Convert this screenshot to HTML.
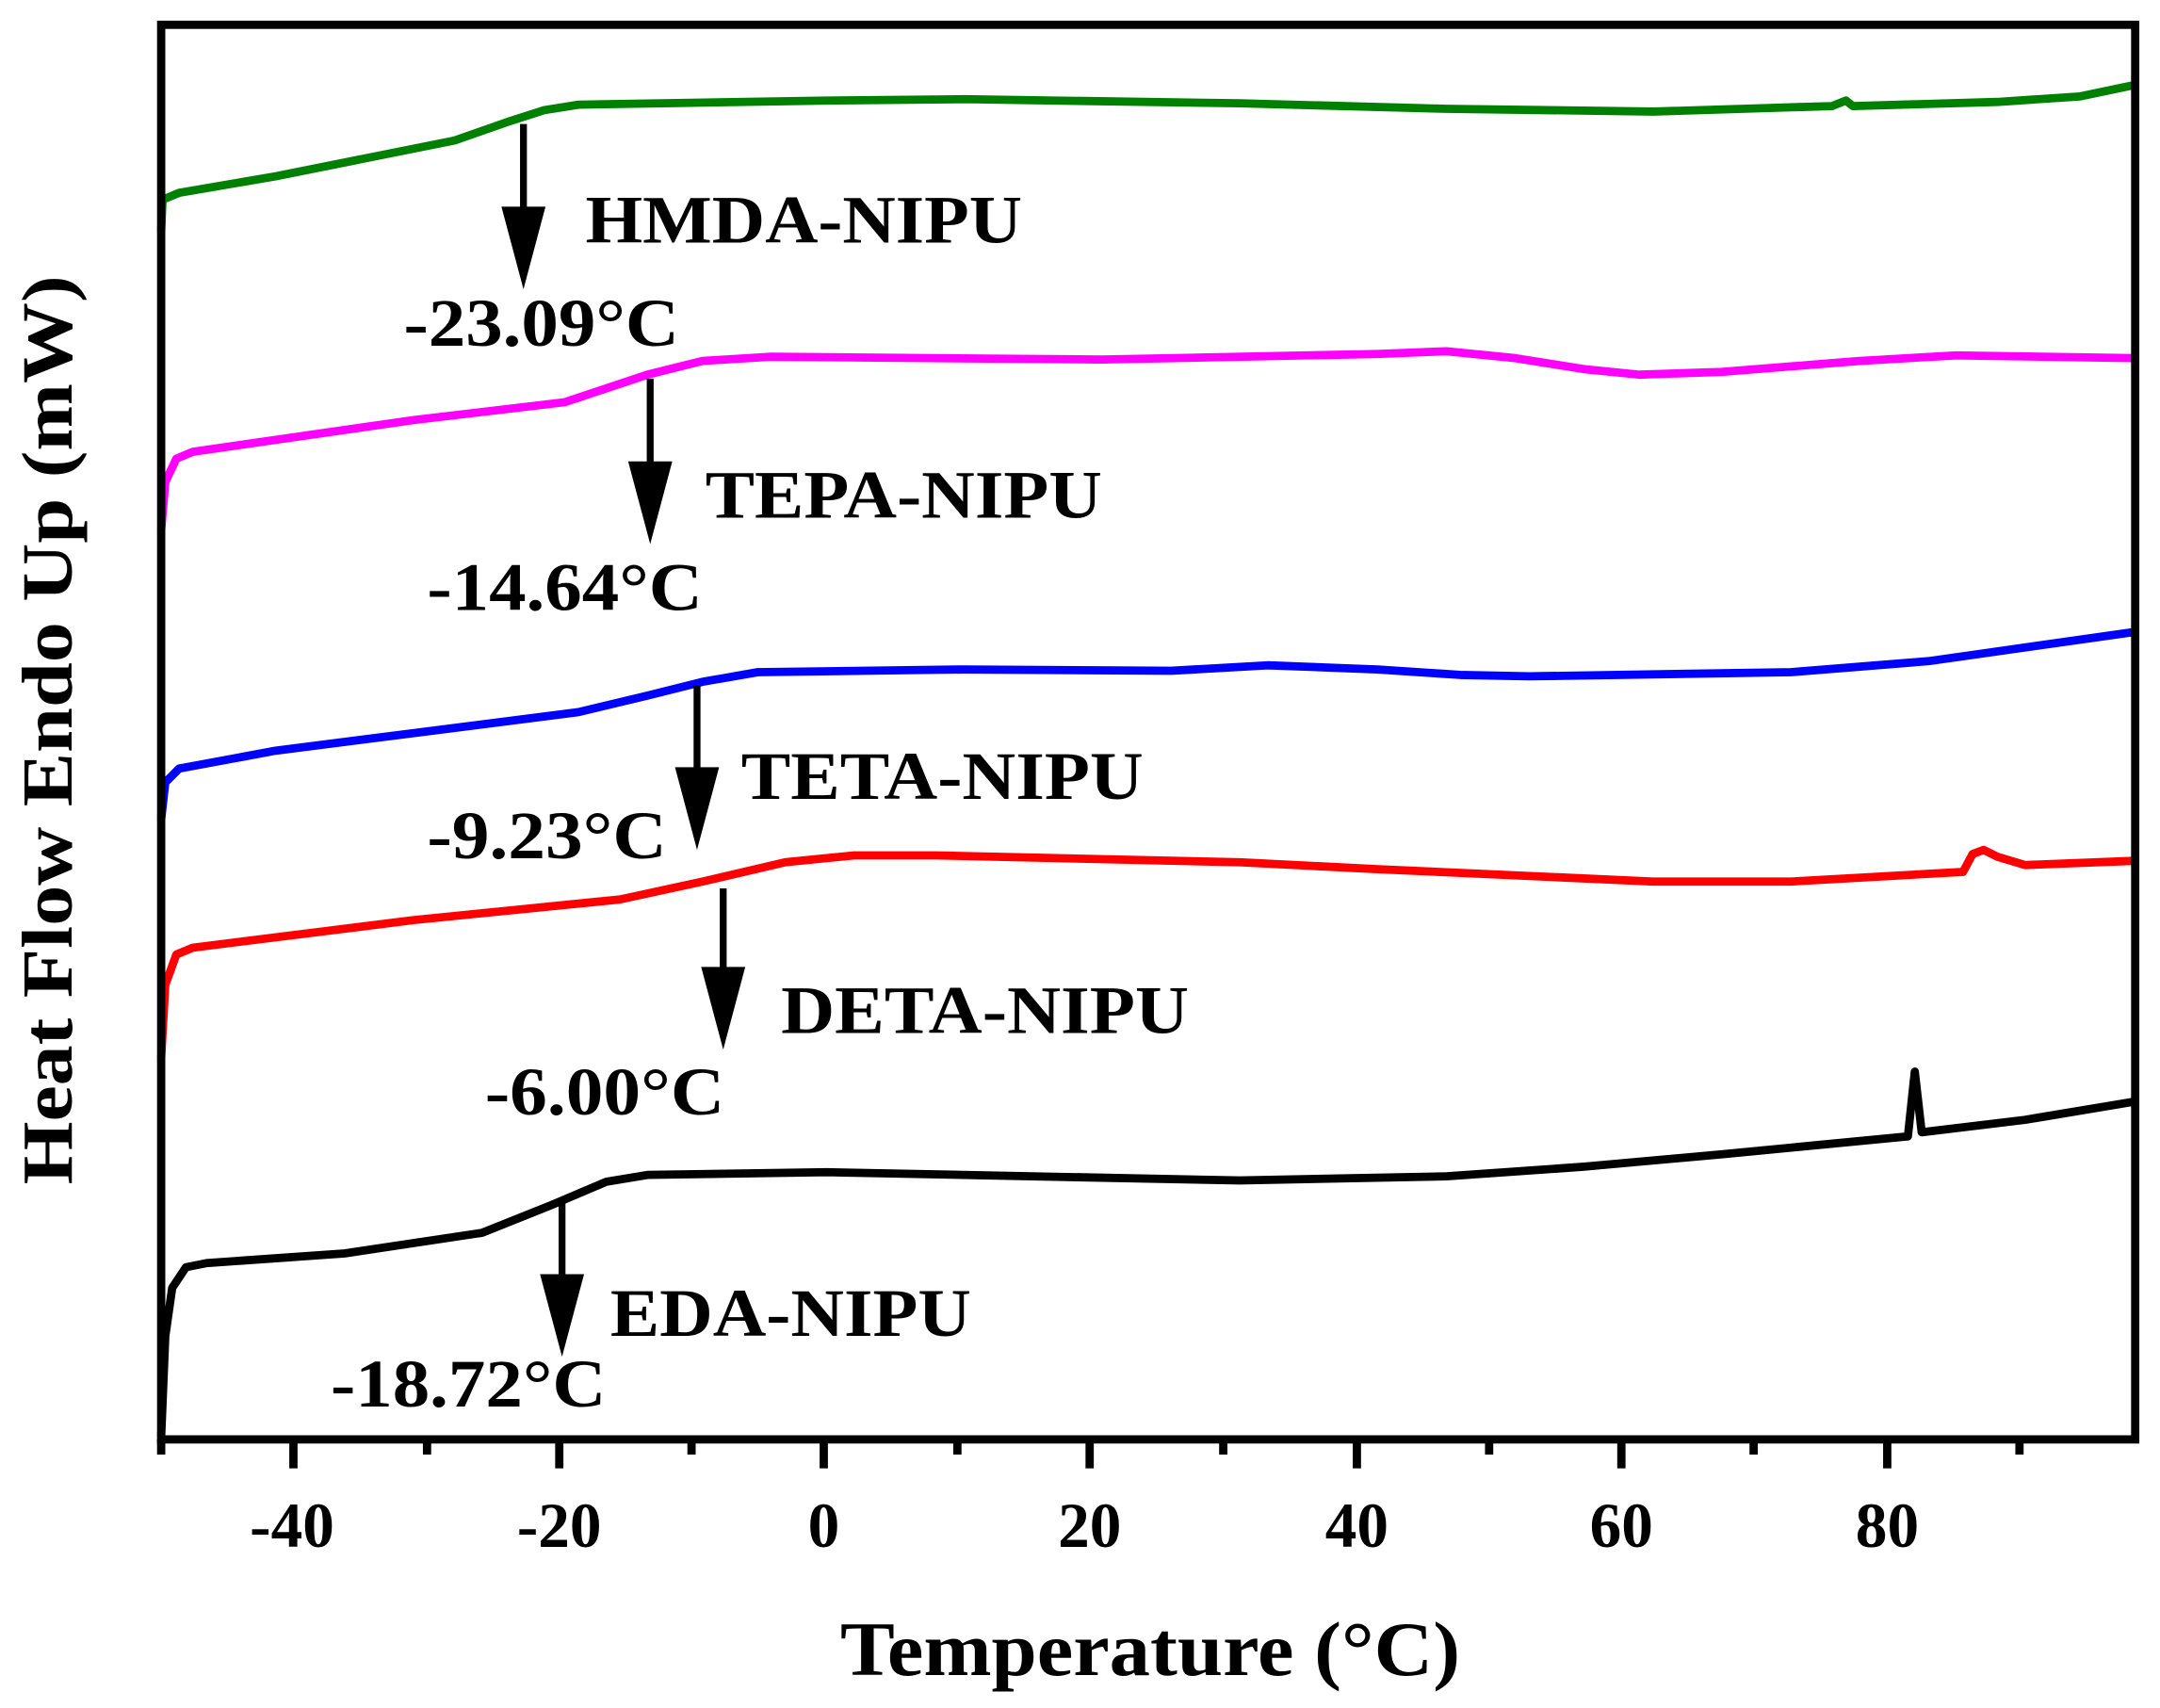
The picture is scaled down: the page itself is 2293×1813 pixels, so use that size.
<!DOCTYPE html>
<html><head><meta charset="utf-8"><style>
html,body{margin:0;padding:0;background:#fff}
svg{display:block}
text{font-family:"Liberation Serif",serif;font-weight:bold;fill:#000}
</style></head><body>
<svg width="2293" height="1813" viewBox="0 0 1568 1240" preserveAspectRatio="none" xmlns="http://www.w3.org/2000/svg">
<g fill="none" stroke-width="6" stroke-linejoin="round">
<polyline stroke="#008000" points="117,168 118,145 130,140 200,128 330,102 370,88 395,80 420,76 600,73 700,72 900,75 1050,79 1200,81 1330,77 1340,73 1345,77 1450,74 1510,70 1548,62"/>
<polyline stroke="#ff00ff" points="117,385 120,350 128,333 140,328 300,305 410,292 440,282 470,272 510,262 560,259 800,261 1000,257 1050,255 1100,260 1150,268 1190,272 1250,270 1350,262 1420,258 1548,260"/>
<polyline stroke="#0000ff" points="117,595 120,568 130,558 200,545 420,517 470,505 510,495 550,488 700,486 850,487 920,483 1000,486 1060,490 1110,491 1300,488 1400,480 1548,459"/>
<polyline stroke="#ff0000" points="117,768 120,715 128,693 140,688 300,668 450,653 510,640 570,626 620,621 680,621 900,626 1000,631 1200,640 1300,640 1425,633 1432,620 1440,617 1450,622 1470,628 1548,625"/>
<polyline stroke="#000000" points="117,1043 120,970 125,935 135,920 150,917 250,910 350,895 400,875 440,858 470,853 600,851 900,857 1050,854 1150,847 1250,838 1385,825 1390,778 1395,822 1470,813 1548,800"/>
</g>
<g stroke="#000" stroke-width="5">
<line x1="380" y1="90" x2="380" y2="180"/>
<line x1="472" y1="275" x2="472" y2="365"/>
<line x1="506" y1="498" x2="506" y2="587"/>
<line x1="525" y1="645" x2="525" y2="732"/>
<line x1="408" y1="872" x2="408" y2="955"/>
</g>
<g fill="#000">
<polygon points="364,150 396,150 380,210"/>
<polygon points="456,335 488,335 472,395"/>
<polygon points="490,557 522,557 506,617"/>
<polygon points="509,702 541,702 525,762"/>
<polygon points="392,925 424,925 408,985"/>
</g>
<g font-size="49" lengthAdjust="spacingAndGlyphs">
<text x="425" y="176" textLength="317" lengthAdjust="spacingAndGlyphs">HMDA-NIPU</text>
<text x="293" y="251" textLength="200" lengthAdjust="spacingAndGlyphs">-23.09°C</text>
<text x="512" y="376" textLength="288" lengthAdjust="spacingAndGlyphs">TEPA-NIPU</text>
<text x="310" y="443" textLength="200" lengthAdjust="spacingAndGlyphs">-14.64°C</text>
<text x="538" y="580" textLength="292" lengthAdjust="spacingAndGlyphs">TETA-NIPU</text>
<text x="310" y="623" textLength="174" lengthAdjust="spacingAndGlyphs">-9.23°C</text>
<text x="567" y="750" textLength="296" lengthAdjust="spacingAndGlyphs">DETA-NIPU</text>
<text x="352" y="809" textLength="174" lengthAdjust="spacingAndGlyphs">-6.00°C</text>
<text x="443" y="970" textLength="262" lengthAdjust="spacingAndGlyphs">EDA-NIPU</text>
<text x="240" y="1021" textLength="200" lengthAdjust="spacingAndGlyphs">-18.72°C</text>
</g>
<rect x="117" y="18" width="1433" height="1027" fill="none" stroke="#000" stroke-width="6"/>
<g stroke="#000" stroke-width="6">
<line x1="213" y1="1045" x2="213" y2="1066"/>
<line x1="406" y1="1045" x2="406" y2="1066"/>
<line x1="598" y1="1045" x2="598" y2="1066"/>
<line x1="791" y1="1045" x2="791" y2="1066"/>
<line x1="985" y1="1045" x2="985" y2="1066"/>
<line x1="1177" y1="1045" x2="1177" y2="1066"/>
<line x1="1370" y1="1045" x2="1370" y2="1066"/>
<line x1="117" y1="1045" x2="117" y2="1056"/>
<line x1="310" y1="1045" x2="310" y2="1056"/>
<line x1="502" y1="1045" x2="502" y2="1056"/>
<line x1="695" y1="1045" x2="695" y2="1056"/>
<line x1="888" y1="1045" x2="888" y2="1056"/>
<line x1="1081" y1="1045" x2="1081" y2="1056"/>
<line x1="1273" y1="1045" x2="1273" y2="1056"/>
<line x1="1466" y1="1045" x2="1466" y2="1056"/>
</g>
<g font-size="46" text-anchor="middle">
<text x="212" y="1123">-40</text>
<text x="406" y="1123">-20</text>
<text x="598" y="1123">0</text>
<text x="791" y="1123">20</text>
<text x="985" y="1123">40</text>
<text x="1177" y="1123">60</text>
<text x="1370" y="1123">80</text>
</g>
<text x="610" y="1216" font-size="56" textLength="450" lengthAdjust="spacingAndGlyphs">Temperature (°C)</text>
<text transform="translate(52,860) rotate(-90)" font-size="52" textLength="660" lengthAdjust="spacingAndGlyphs">Heat Flow Endo Up (mW)</text>
</svg>
</body></html>
